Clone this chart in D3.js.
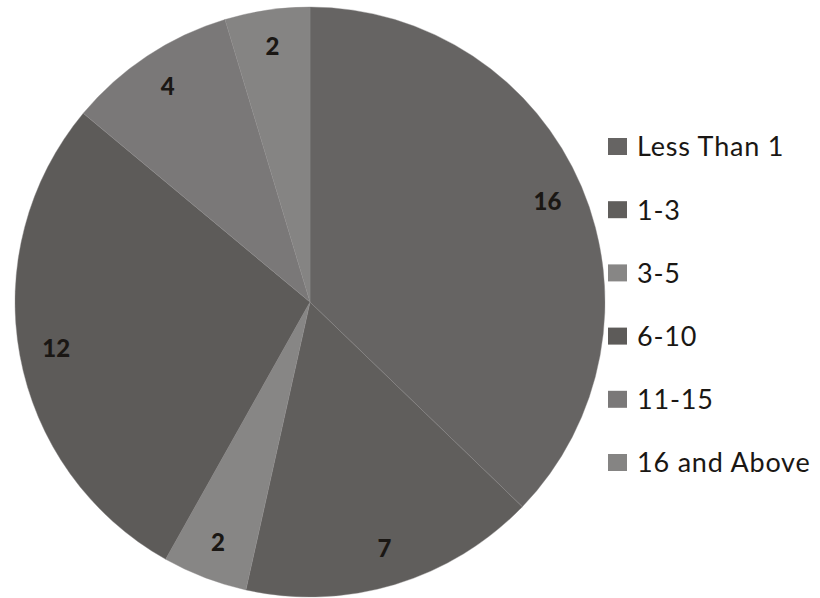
<!DOCTYPE html>
<html>
<head>
<meta charset="utf-8">
<script src="https://cdn.jsdelivr.net/npm/d3@7"></script>
<style>
  body { margin: 0; background: #fff; }
</style>
</head>
<body>
<script>
var categories = ["Less Than 1", "1-3", "3-5", "6-10", "11-15", "16 and Above"];
var values = [16, 7, 2, 12, 4, 2];
var colors = ["#666463", "#605e5c", "#878685", "#5d5b59", "#7a7878", "#858483"];

var width = 820, height = 598;
var cx = 310, cy = 302, radius = 295;

var svg = d3.select("body")
    .append("svg")
    .attr("width", width)
    .attr("height", height);

var data = categories.map(function(c, i) { return {name: c, value: values[i]}; });

var color = d3.scaleOrdinal()
    .domain(categories)
    .range(colors);

var pie = d3.pie()
    .sort(null)
    .value(function(d) { return d.value; });

var arc = d3.arc()
    .innerRadius(0)
    .outerRadius(radius);

// labels sit near the rim
var labelArc = d3.arc()
    .innerRadius(258)
    .outerRadius(258);

var g = svg.append("g")
    .attr("transform", "translate(" + cx + "," + cy + ")");

g.selectAll("path")
    .data(pie(data))
    .enter().append("path")
    .attr("d", arc)
    .style("fill", function(d) { return color(d.data.name); })
    .style("stroke", "#8a8988")
    .style("stroke-width", 0.4);

g.selectAll("text")
    .data(pie(data))
    .enter().append("text")
    .attr("transform", function(d) { return "translate(" + labelArc.centroid(d) + ")"; })
    .attr("dy", "0.35em")
    .style("text-anchor", "middle")
    .style("font-family", "Lato, 'Open Sans', sans-serif")
    .style("font-weight", "900")
    .style("font-size", "24px")
    .style("fill", "#1a1714")
    .text(function(d) { return d.data.value; });

// legend
var legend = svg.append("g")
    .attr("transform", "translate(608,147)");

var rowY = d3.scalePoint()
    .domain(categories)
    .range([0, 316]);

var item = legend.selectAll("g")
    .data(categories)
    .enter().append("g")
    .attr("transform", function(d) { return "translate(0," + rowY(d) + ")"; });

item.append("rect")
    .attr("x", 0)
    .attr("y", -9)
    .attr("width", 19)
    .attr("height", 17)
    .style("fill", function(d) { return color(d); });

item.append("text")
    .attr("x", 29)
    .attr("dy", "0.35em")
    .style("font-family", "Lato, 'Open Sans', sans-serif")
    .style("font-size", "27px")
    .style("letter-spacing", "0.8px")
    .style("fill", "#1a1714")
    .text(function(d) { return d; });
</script>
</body>
</html>
